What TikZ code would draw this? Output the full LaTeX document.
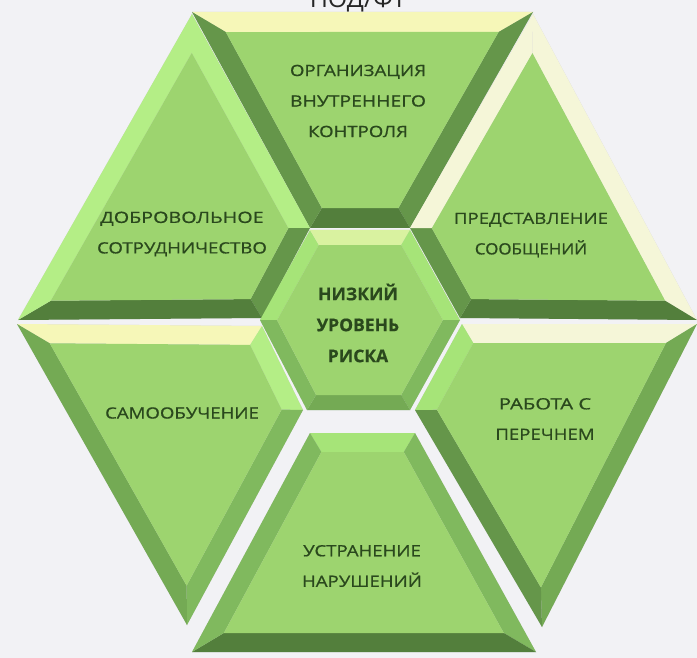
\documentclass[tikz,border=0pt]{standalone}
\usepackage{graphicx}
\usepackage{fontspec}
\setmainfont{Open Sans}
\newfontfamily\labfont[FakeStretch=1.2,FakeBold=0.8]{Open Sans}
\newfontfamily\boldlabfont[FakeBold=0.5]{Open Sans Bold}
\usetikzlibrary{calc}
\definecolor{bg}{HTML}{F2F2F5}
\definecolor{face}{HTML}{9DD46F}
\definecolor{labc}{HTML}{2A481D}
\definecolor{cyel}{HTML}{F6F7B8}
\definecolor{cream}{HTML}{F5F6D8}
\definecolor{lgA}{HTML}{B4EE86}
\definecolor{lgB}{HTML}{A6E478}
\definecolor{pyg}{HTML}{D9F2A0}
\definecolor{midA}{HTML}{80B95E}
\definecolor{midB}{HTML}{74AA54}
\definecolor{darkA}{HTML}{65964A}
\definecolor{darkB}{HTML}{537F3C}
\definecolor{shd}{HTML}{B8B4C6}
\newcommand\sx[2]{\scalebox{#1}[1]{#2}}
\tikzset{
  lab/.style={font=\labfont\fontsize{15.5}{30.5}\selectfont, text=labc, align=center},
  labbold/.style={font=\boldlabfont\fontsize{17.5}{31}\selectfont, text=labc, align=center},
  shadowfill/.style={fill=shd, opacity=0.55}
}
\newcommand\mkpiece[4]{%
  \foreach \i in {1,...,#2}{%
    \pgfmathtruncatemacro\prv{mod(\i+#2-2,#2)+1}%
    \pgfmathtruncatemacro\nxt{mod(\i,#2)+1}%
    \coordinate (#1e1) at ($(#1-\prv)!#3!-90:(#1-\i)$);
    \coordinate (#1e2) at ($(#1-\i)!#3!90:(#1-\prv)$);
    \coordinate (#1f1) at ($(#1-\i)!#3!-90:(#1-\nxt)$);
    \coordinate (#1f2) at ($(#1-\nxt)!#3!90:(#1-\i)$);
    \coordinate (#1q\i) at (intersection of #1e1--#1e2 and #1f1--#1f2);
  }
  \foreach \i/\col in {#4}{%
    \pgfmathtruncatemacro\nxt{mod(\i,#2)+1}%
    \fill[\col] (#1-\i) -- (#1-\nxt) -- (#1q\nxt) -- (#1q\i) -- cycle;
  }
  \fill[face] (#1q1) \foreach \i in {2,...,#2}{ -- (#1q\i)} -- cycle;
}
\begin{document}
\begin{tikzpicture}[x=1pt,y=1pt]
\useasboundingbox (0,0) rectangle (697,-658);
\clip (0,0) rectangle (697,-658);
\fill[bg] (0,0) rectangle (697,-658);
\node[font=\fontsize{25}{25}\selectfont, text=black!85, anchor=base] (title) at (358,-8) {ПОД/ФТ};
% piece corner coordinates (clockwise)
\coordinate (top-1) at (192,-12);  \coordinate (top-2) at (533,-12);
\coordinate (top-3) at (410,-228); \coordinate (top-4) at (310,-228);
\coordinate (tl-1) at (192,-14);   \coordinate (tl-2) at (310,-228);
\coordinate (tl-3) at (262,-318);  \coordinate (tl-4) at (18,-320);
\coordinate (tr-1) at (533,-14);   \coordinate (tr-2) at (697,-320);
\coordinate (tr-3) at (460,-318);  \coordinate (tr-4) at (410,-228);
\coordinate (c-1) at (260,-320);   \coordinate (c-2) at (310,-230);
\coordinate (c-3) at (410,-230);   \coordinate (c-4) at (460,-320);
\coordinate (c-5) at (410,-410);   \coordinate (c-6) at (307,-410);
\coordinate (bl-1) at (17,-324);   \coordinate (bl-2) at (262,-326);
\coordinate (bl-3) at (303,-410);  \coordinate (bl-4) at (187,-625);
\coordinate (br-1) at (462,-324);  \coordinate (br-2) at (697,-324);
\coordinate (br-3) at (542,-627);  \coordinate (br-4) at (415,-410);
\coordinate (bo-1) at (310,-433);  \coordinate (bo-2) at (415,-433);
\coordinate (bo-3) at (536,-652);  \coordinate (bo-4) at (192,-652);
% soft shadows
\foreach \p/\n in {top/4,tl/4,tr/4,c/6,bl/4,br/4,bo/4}{
  \fill[shadowfill, shift={(3,-4)}] (\p-1) \foreach \k in {2,...,\n}{ -- (\p-\k)} -- cycle;
}
% pieces
\mkpiece{top}{4}{20pt}{1/cyel,2/darkA,3/darkB,4/darkA}
\mkpiece{tl}{4}{19pt}{1/lgA,2/darkA,3/darkB,4/lgA}
\mkpiece{tr}{4}{19pt}{1/cream,2/darkB,3/darkA,4/cream}
\mkpiece{bl}{4}{19pt}{1/cyel,2/lgA,3/midA,4/midB}
\mkpiece{br}{4}{19pt}{1/cream,2/midB,3/darkA,4/lgB}
\mkpiece{bo}{4}{19pt}{1/lgB,2/midA,3/darkB,4/midA}
\mkpiece{c}{6}{15pt}{1/lgB,2/pyg,3/lgB,4/midA,5/midB,6/midA}
% labels
\node[lab] (org) at (358,-101) {ОРГАНИЗАЦИЯ\\\sx{1.04}{ВНУТРЕННЕГО}\\КОНТРОЛЯ};
\node[lab] (dob) at (182,-234) {\sx{1.06}{ДОБРОВОЛЬНОЕ}\\СОТРУДНИЧЕСТВО};
\node[lab] (pred) at (531,-235) {ПРЕДСТАВЛЕНИЕ\\\sx{0.91}{СООБЩЕНИЙ}};
\node[labbold] (risk) at (358,-323) {НИЗКИЙ\\УРОВЕНЬ\\РИСКА};
\node[lab] (sam) at (182,-413) {САМООБУЧЕНИЕ};
\node[lab] (rab) at (545,-419) {\sx{1.09}{РАБОТА С}\\ПЕРЕЧНЕМ};
\node[lab] (ust) at (362,-566) {УСТРАНЕНИЕ\\НАРУШЕНИЙ};
\end{tikzpicture}
\end{document}
